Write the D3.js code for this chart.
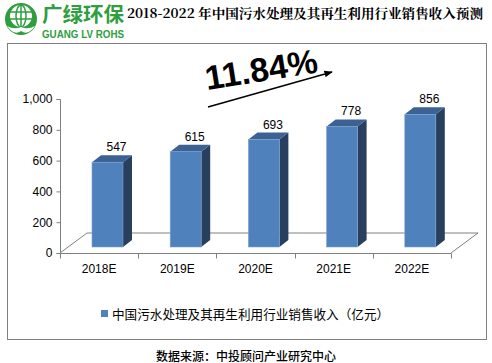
<!DOCTYPE html>
<html>
<head>
<meta charset="utf-8">
<script src="https://cdn.jsdelivr.net/npm/d3@7"></script>
<style>
  body { margin: 0; background: #fff; }
  svg { display: block; }
</style>
</head>
<body>
<div id="vis"></div>
<script>
const years = ['2018E', '2019E', '2020E', '2021E', '2022E'];
const revenue = [547, 615, 693, 778, 856];
const yTicks = [0, 200, 400, 600, 800, 1000];
const seriesName = '中国污水处理及其再生利用行业销售收入（亿元）';
const growthLabel = '11.84%';

const W = 492, H = 363;
const svg = d3.select('#vis').append('svg')
    .attr('width', W)
    .attr('height', H);

const cjk = '"Noto Sans CJK SC", "Noto Sans", sans-serif';
const latin = '"Liberation Sans", Arial, sans-serif';

// chart frame
svg.append('rect')
    .attr('x', 7.5).attr('y', 43.5)
    .attr('width', 479).attr('height', 296)
    .attr('fill', 'none')
    .attr('stroke', '#808080');

// scales
const xScale = d3.scaleBand()
    .domain(years)
    .range([60, 451]);

const yScale = d3.scaleLinear()
    .domain([0, 1000])
    .range([253, 99]);

// bars sit a bit behind the front plane, so their own scale
const yBar = d3.scaleLinear()
    .domain([0, 1000])
    .range([247, 92]);

const depthX = 9, depthY = 7;

// floor (3d)
const floor = svg.append('g').attr('stroke', '#808080').attr('fill', 'none');
floor.append('path')
    .attr('d', `M60,253 L87,233 L478,233 L451,253`);

// y axis
const yAxis = d3.axisLeft(yScale)
    .tickValues(yTicks)
    .tickSize(4)
    .tickFormat(d3.format(','));
const yg = svg.append('g')
    .attr('transform', 'translate(60.5,0)')
    .call(yAxis);
yg.select('.domain').attr('stroke', '#808080').attr('d', 'M-4,99.5H0V253.5H-4');
yg.selectAll('.tick line').attr('stroke', '#808080');
yg.selectAll('.tick text')
    .attr('x', -8)
    .attr('fill', '#000')
    .style('font-family', latin)
    .style('font-size', '12px');

// x axis
const xg = svg.append('g')
    .attr('transform', 'translate(0,253.5)');
xg.append('line')
    .attr('x1', 60).attr('x2', 451)
    .attr('stroke', '#808080');
xg.selectAll('.xtick')
    .data(years.concat(['end']))
    .join('line')
    .attr('class', 'xtick')
    .attr('x1', (d, i) => Math.round(60 + i * xScale.step()) + 0.5)
    .attr('x2', (d, i) => Math.round(60 + i * xScale.step()) + 0.5)
    .attr('y1', 0).attr('y2', 5)
    .attr('stroke', '#808080');
xg.selectAll('.xlabel')
    .data(years)
    .join('text')
    .attr('class', 'xlabel')
    .attr('x', d => xScale(d) + xScale.bandwidth() / 2)
    .attr('y', 19)
    .attr('text-anchor', 'middle')
    .style('font-family', latin)
    .style('font-size', '12px')
    .text(d => d);

// bars
const barW = 31;
const bars = svg.selectAll('.bar')
    .data(years.map((y, i) => ({year: y, value: revenue[i]})))
    .join('g')
    .attr('class', 'bar');

bars.each(function(d) {
    const g = d3.select(this);
    const x0 = xScale(d.year) + 32;
    const x1 = x0 + barW;
    const yb = yBar(0);
    const yt = yBar(d.value);
    // side
    g.append('path')
        .attr('d', `M${x1},${yt} L${x1 + depthX},${yt - depthY} L${x1 + depthX},${yb - depthY} L${x1},${yb} Z`)
        .attr('fill', '#283F5E');
    // top
    g.append('path')
        .attr('d', `M${x0},${yt} L${x0 + depthX},${yt - depthY} L${x1 + depthX},${yt - depthY} L${x1},${yt} Z`)
        .attr('fill', '#3C6193');
    // front
    g.append('rect')
        .attr('x', x0).attr('y', yt)
        .attr('width', barW).attr('height', yb - yt)
        .attr('fill', '#4F81BD')
        .attr('stroke', '#7DA2D0')
        .attr('stroke-width', 0.6);
    g.append('text')
        .attr('x', x0 + barW / 2 + depthX)
        .attr('y', yt - depthY - 4)
        .attr('text-anchor', 'middle')
        .style('font-family', latin)
        .style('font-size', '12px')
        .text(d.value);
});

// growth annotation
svg.append('defs').append('marker')
    .attr('id', 'arrow')
    .attr('viewBox', '0 0 10 10')
    .attr('refX', 9).attr('refY', 5)
    .attr('markerWidth', 6).attr('markerHeight', 6)
    .attr('orient', 'auto')
    .append('path')
    .attr('d', 'M0,1 L10,5 L0,9 Z')
    .attr('fill', '#000');

svg.append('line')
    .attr('x1', 208).attr('y1', 107)
    .attr('x2', 332).attr('y2', 72)
    .attr('stroke', '#000')
    .attr('stroke-width', 1.4)
    .attr('marker-end', 'url(#arrow)');

svg.append('text')
    .attr('transform', 'translate(207,90) rotate(-9)')
    .style('font-family', latin)
    .style('font-size', '34px')
    .style('font-weight', 'bold')
    .text(growthLabel);

// legend
svg.append('rect')
    .attr('x', 101).attr('y', 310)
    .attr('width', 7).attr('height', 7)
    .attr('fill', '#4F81BD');
svg.append('text')
    .attr('x', 112).attr('y', 318.5)
    .style('font-family', cjk)
    .style('font-size', '12.6px')
    .text(seriesName);

// source
svg.append('text')
    .attr('x', 246).attr('y', 361)
    .attr('text-anchor', 'middle')
    .style('font-family', cjk)
    .style('font-size', '12px')
    .style('font-weight', 500)
    .text('数据来源：中投顾问产业研究中心');

// title
svg.append('text')
    .attr('x', 127).attr('y', 18)
    .attr('textLength', 356)
    .attr('lengthAdjust', 'spacingAndGlyphs')
    .style('font-family', '"Noto Serif CJK SC", "Liberation Serif", "Noto Sans CJK SC", serif')
    .style('font-size', '13px')
    .style('font-weight', 'bold')
    .text('2018-2022 年中国污水处理及其再生利用行业销售收入预测');

// logo
const logo = svg.append('g');
const green = '#2E9E3E';
logo.append('rect').attr('x', 0).attr('y', 0).attr('width', 125).attr('height', 41).attr('fill', '#fff');
logo.append('circle').attr('cx', 21).attr('cy', 19).attr('r', 16).attr('fill', green);
logo.append('circle').attr('cx', 21).attr('cy', 16).attr('r', 11).attr('fill', '#fff');
const grid = logo.append('g').attr('stroke', green).attr('stroke-width', 1.5).attr('fill', 'none');
grid.append('ellipse').attr('cx', 21).attr('cy', 16).attr('rx', 5).attr('ry', 11);
grid.append('line').attr('x1', 21).attr('x2', 21).attr('y1', 5).attr('y2', 27);
grid.append('line').attr('x1', 10).attr('x2', 32).attr('y1', 12).attr('y2', 12);
grid.append('line').attr('x1', 10).attr('x2', 32).attr('y1', 19).attr('y2', 19);
logo.append('path')
    .attr('d', 'M7,26 Q14,36 21,31 Q28,36 35,26 Q28,30 21,27 Q14,30 7,26 Z')
    .attr('fill', '#fff');
logo.append('text')
    .attr('x', 42).attr('y', 22)
    .attr('textLength', 82)
    .attr('lengthAdjust', 'spacingAndGlyphs')
    .style('font-family', cjk)
    .style('font-size', '20px')
    .style('font-weight', 'bold')
    .attr('fill', green)
    .text('广绿环保');
logo.append('text')
    .attr('x', 42).attr('y', 38)
    .attr('textLength', 82)
    .attr('lengthAdjust', 'spacingAndGlyphs')
    .style('font-family', latin)
    .style('font-size', '10px')
    .style('font-weight', 'bold')
    .attr('fill', green)
    .text('GUANG LV ROHS');
</script>
</body>
</html>
